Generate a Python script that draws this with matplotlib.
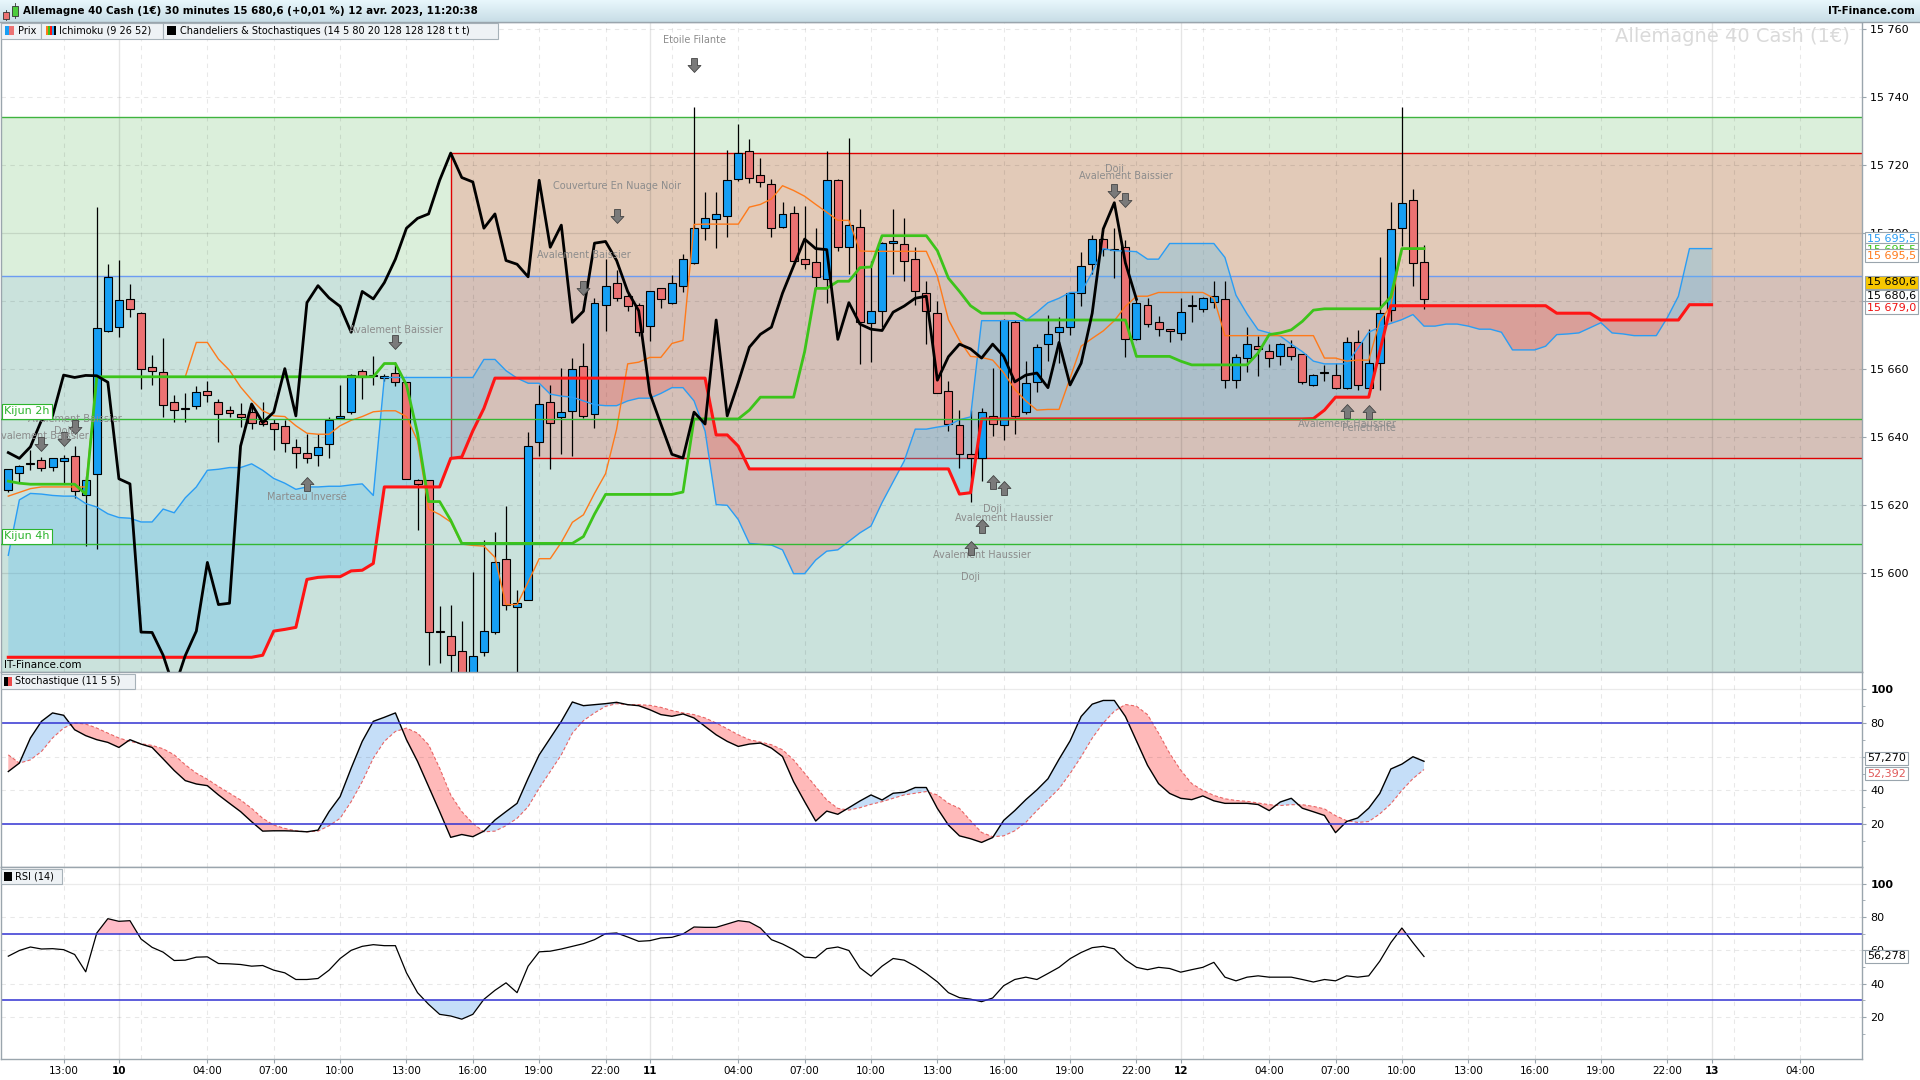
import numpy as np
import matplotlib
matplotlib.use("Agg")
import matplotlib.pyplot as plt
from matplotlib.path import Path
from matplotlib.patches import Rectangle

# ---- candles (30 min), index 0 = first candle on the chart ----
opens = [15624.4, 15629.6, 15632.3, 15633.4, 15631.4, 15633.1, 15634.5, 15623.0, 15629.2, 15671.2,
         15672.3, 15680.8, 15676.6, 15660.8, 15659.2, 15650.5, 15648.7, 15649.1, 15653.5, 15650.3,
         15648.0, 15647.0, 15647.4, 15644.9, 15644.3, 15643.2, 15637.2, 15635.5, 15634.7, 15638.0,
         15645.6, 15647.4, 15659.4, 15658.0, 15657.3, 15658.9, 15656.2, 15627.4, 15627.3, 15582.6,
         15581.6, 15577.0, 15567.0, 15576.9, 15582.8, 15604.3, 15590.2, 15592.1, 15638.7, 15650.5,
         15646.0, 15647.6, 15661.1, 15646.9, 15678.8, 15685.5, 15681.5, 15679.0, 15672.7, 15683.8,
         15679.5, 15684.5, 15691.3, 15701.5, 15704.3, 15705.0, 15715.9, 15724.1, 15717.1, 15714.6,
         15702.0, 15705.9, 15692.4, 15691.5, 15686.5, 15715.8, 15695.9, 15702.0, 15673.5, 15677.2,
         15697.2, 15697.0, 15692.4, 15682.3, 15676.5, 15653.5, 15643.5, 15635.2, 15633.9, 15646.3,
         15643.5, 15673.9, 15647.4, 15656.3, 15667.4, 15670.9, 15672.4, 15682.4, 15690.9, 15698.3,
         15695.0, 15695.9, 15668.8, 15678.8, 15673.8, 15671.6, 15670.7, 15678.5, 15677.7, 15679.8,
         15680.7, 15656.8, 15663.3, 15666.8, 15665.4, 15663.8, 15666.6, 15664.4, 15655.4, 15658.8,
         15658.3, 15654.4, 15667.9, 15654.6, 15661.8, 15677.4, 15701.5, 15709.7, 15691.5]
highs = [15630.8, 15631.9, 15636.3, 15634.2, 15634.0, 15634.9, 15637.4, 15628.7, 15707.7, 15691.0,
         15692.1, 15685.1, 15676.8, 15664.1, 15669.3, 15652.4, 15652.9, 15655.2, 15656.5, 15651.2,
         15649.2, 15650.0, 15649.2, 15650.3, 15645.4, 15645.0, 15639.6, 15640.9, 15640.9, 15646.1,
         15655.4, 15658.7, 15660.0, 15663.8, 15658.6, 15662.1, 15656.4, 15627.6, 15627.5, 15590.3,
         15590.6, 15586.0, 15600.3, 15609.9, 15612.1, 15619.9, 15595.2, 15641.5, 15655.4, 15655.4,
         15660.4, 15663.3, 15667.6, 15680.9, 15692.4, 15689.3, 15682.4, 15679.5, 15683.1, 15684.0,
         15687.7, 15693.9, 15737.1, 15712.1, 15712.1, 15724.4, 15732.1, 15727.8, 15722.1, 15716.0,
         15709.2, 15707.9, 15707.9, 15701.5, 15724.2, 15716.0, 15727.9, 15707.1, 15692.0, 15697.3,
         15707.1, 15704.4, 15696.0, 15685.9, 15680.1, 15656.6, 15648.0, 15648.0, 15648.5, 15660.4,
         15674.8, 15674.5, 15662.4, 15667.4, 15676.0, 15675.4, 15682.6, 15694.4, 15699.6, 15698.5,
         15701.5, 15697.9, 15681.0, 15681.0, 15675.7, 15671.8, 15681.0, 15681.8, 15681.2, 15685.9,
         15685.9, 15664.4, 15672.4, 15669.9, 15667.4, 15667.6, 15668.5, 15664.6, 15658.5, 15661.3,
         15661.8, 15669.6, 15671.6, 15671.8, 15693.1, 15709.2, 15737.1, 15712.9, 15696.6]
lows = [15624.0, 15627.0, 15630.3, 15630.0, 15630.0, 15626.5, 15622.2, 15608.0, 15607.2, 15671.0,
        15669.5, 15675.5, 15654.3, 15655.4, 15645.9, 15644.5, 15644.5, 15648.2, 15650.4, 15638.5,
        15645.9, 15643.1, 15642.5, 15643.2, 15636.3, 15635.8, 15631.1, 15632.5, 15631.6, 15633.8,
        15645.5, 15647.0, 15651.2, 15655.4, 15656.5, 15655.2, 15627.8, 15612.6, 15573.0, 15573.7,
        15568.0, 15562.0, 15563.0, 15575.8, 15582.1, 15589.1, 15566.0, 15592.0, 15634.6, 15630.8,
        15635.2, 15634.4, 15645.7, 15642.7, 15671.3, 15680.1, 15677.2, 15669.8, 15668.3, 15678.1,
        15679.3, 15682.6, 15691.1, 15697.9, 15695.7, 15699.0, 15715.4, 15714.9, 15713.5, 15699.0,
        15701.5, 15692.0, 15689.6, 15684.3, 15679.6, 15694.9, 15687.9, 15661.6, 15662.1, 15672.4,
        15687.9, 15685.9, 15678.8, 15667.4, 15653.0, 15641.9, 15631.0, 15621.0, 15627.2, 15640.4,
        15639.1, 15641.1, 15646.9, 15653.2, 15662.4, 15661.8, 15670.2, 15678.7, 15687.9, 15693.3,
        15686.8, 15663.7, 15668.6, 15672.4, 15669.9, 15667.9, 15668.5, 15673.8, 15676.8, 15677.9,
        15654.6, 15654.6, 15659.1, 15657.9, 15660.7, 15661.3, 15662.7, 15655.7, 15655.2, 15656.6,
        15654.3, 15654.2, 15653.8, 15654.5, 15653.8, 15674.1, 15696.3, 15684.4, 15677.6]
closes = [15630.6, 15631.7, 15632.1, 15631.1, 15634.0, 15634.0, 15624.3, 15627.4, 15672.2, 15687.2,
          15680.4, 15677.6, 15660.0, 15659.4, 15649.6, 15648.0, 15648.2, 15653.2, 15652.3, 15647.0,
          15647.2, 15646.1, 15644.3, 15643.9, 15642.3, 15638.3, 15635.5, 15633.8, 15637.2, 15645.0,
          15646.3, 15658.3, 15657.6, 15658.2, 15658.1, 15656.2, 15627.8, 15626.3, 15582.7, 15582.6,
          15575.9, 15566.0, 15575.8, 15583.0, 15603.2, 15590.8, 15591.2, 15637.4, 15649.8, 15644.3,
          15647.4, 15660.2, 15646.3, 15679.6, 15684.6, 15681.0, 15678.5, 15670.9, 15682.9, 15680.7,
          15685.5, 15692.4, 15701.5, 15704.4, 15705.7, 15715.6, 15723.6, 15716.4, 15715.1, 15701.5,
          15705.7, 15692.0, 15690.9, 15687.2, 15715.6, 15695.9, 15702.4, 15673.8, 15677.1, 15697.1,
          15697.6, 15692.0, 15682.9, 15677.2, 15653.0, 15643.9, 15635.0, 15633.9, 15647.4, 15643.9,
          15674.5, 15646.3, 15656.1, 15666.5, 15670.3, 15672.4, 15682.4, 15690.4, 15698.3, 15695.5,
          15695.2, 15668.8, 15679.6, 15673.3, 15671.8, 15671.4, 15676.8, 15678.6, 15680.9, 15681.5,
          15656.8, 15663.7, 15667.4, 15666.0, 15663.3, 15667.4, 15663.8, 15656.3, 15658.3, 15658.9,
          15654.6, 15667.9, 15655.4, 15661.8, 15676.5, 15701.3, 15709.0, 15691.3, 15680.6]

# ---- Ichimoku (9 26 52) ----
tenkan = [15622.7, 15623.8, 15624.9, 15625.4, 15625.4, 15625.4, 15625.4, 15625.4, 15657.8, 15657.8,
          15657.8, 15657.8, 15657.8, 15657.8, 15657.8, 15657.8, 15657.8, 15667.9, 15667.9, 15663.0,
          15659.7, 15654.8, 15651.0, 15647.8, 15646.3, 15646.1, 15643.4, 15641.2, 15640.9, 15640.9,
          15643.4, 15645.0, 15646.1, 15647.5, 15647.8, 15647.8, 15646.1, 15639.0, 15618.9, 15617.3,
          15615.1, 15608.6, 15608.2, 15608.0, 15604.7, 15590.8, 15590.8, 15597.4, 15604.3, 15604.3,
          15609.1, 15615.0, 15617.2, 15623.5, 15629.3, 15642.4, 15661.6, 15662.1, 15663.5, 15663.5,
          15667.6, 15668.5, 15702.6, 15702.7, 15702.7, 15702.7, 15702.7, 15707.7, 15708.5, 15710.1,
          15714.0, 15712.6, 15710.9, 15708.5, 15706.2, 15703.8, 15703.8, 15694.8, 15694.7, 15694.7,
          15694.7, 15694.7, 15694.7, 15694.7, 15687.4, 15674.6, 15668.5, 15663.8, 15663.5, 15662.7,
          15659.0, 15654.1, 15650.7, 15648.0, 15648.2, 15648.2, 15657.4, 15666.8, 15669.1, 15671.3,
          15674.3, 15678.5, 15681.5, 15681.5, 15682.6, 15682.6, 15682.6, 15682.6, 15682.6, 15680.9,
          15669.9, 15669.9, 15669.9, 15669.9, 15669.9, 15669.9, 15669.9, 15669.9, 15669.9, 15663.3,
          15663.3, 15662.4, 15662.7, 15662.7, 15674.1, 15678.7, 15695.5, 15695.5, 15695.5]
kijun = [15627.1, 15626.5, 15626.2, 15626.2, 15626.2, 15626.2, 15626.2, 15623.3, 15657.8, 15657.8,
         15657.8, 15657.8, 15657.8, 15657.8, 15657.8, 15657.8, 15657.8, 15657.8, 15657.8, 15657.8,
         15657.8, 15657.8, 15657.8, 15657.8, 15657.8, 15657.8, 15657.8, 15657.8, 15657.8, 15657.8,
         15657.8, 15657.8, 15657.8, 15657.8, 15661.7, 15661.7, 15655.4, 15641.2, 15621.1, 15621.1,
         15615.6, 15608.8, 15608.8, 15608.8, 15608.8, 15608.8, 15608.8, 15608.8, 15608.8, 15608.8,
         15608.8, 15608.8, 15610.8, 15617.4, 15623.2, 15623.2, 15623.2, 15623.2, 15623.2, 15623.2,
         15623.2, 15623.9, 15645.4, 15645.4, 15645.4, 15645.4, 15645.4, 15648.0, 15651.8, 15651.8,
         15651.8, 15651.8, 15665.2, 15683.8, 15683.8, 15685.9, 15685.9, 15689.9, 15690.1, 15699.3,
         15699.3, 15699.3, 15699.3, 15699.3, 15694.9, 15686.8, 15682.9, 15678.7, 15676.5, 15676.5,
         15676.5, 15676.5, 15674.5, 15674.5, 15674.5, 15674.5, 15674.5, 15674.5, 15674.5, 15674.5,
         15674.5, 15674.5, 15663.8, 15663.8, 15663.8, 15663.8, 15662.4, 15661.3, 15661.3, 15661.3,
         15661.3, 15661.3, 15661.3, 15664.8, 15670.2, 15670.7, 15671.6, 15674.1, 15677.4, 15677.8,
         15677.8, 15677.8, 15677.8, 15677.8, 15677.8, 15681.3, 15695.5, 15695.5, 15695.5]
# spans already drawn 26 periods ahead (to index 154)
senkou_a = [15575.3, 15575.3, 15575.3, 15575.3, 15575.3, 15575.3, 15575.3, 15575.3, 15575.3, 15575.3,
            15575.3, 15575.3, 15575.3, 15575.3, 15575.3, 15575.3, 15575.3, 15575.3, 15575.3, 15575.3,
            15575.3, 15575.3, 15575.3, 15575.9, 15583.0, 15583.5, 15584.1, 15598.2, 15598.8, 15599.0,
            15599.0, 15600.7, 15600.9, 15602.9, 15625.4, 15625.4, 15625.4, 15625.4, 15625.4, 15625.4,
            15633.8, 15634.2, 15641.9, 15648.5, 15657.4, 15657.4, 15657.4, 15657.4, 15657.4, 15657.4,
            15657.4, 15657.4, 15657.4, 15657.4, 15657.4, 15657.4, 15657.4, 15657.4, 15657.4, 15657.4,
            15657.4, 15657.4, 15657.4, 15657.4, 15640.7, 15640.7, 15637.4, 15630.7, 15630.7, 15630.7,
            15630.7, 15630.7, 15630.7, 15630.7, 15630.7, 15630.7, 15630.7, 15630.7, 15630.7, 15630.7,
            15630.7, 15630.7, 15630.7, 15630.7, 15630.7, 15630.7, 15623.3, 15623.7, 15645.4, 15645.4,
            15645.4, 15645.4, 15645.4, 15645.4, 15645.4, 15645.4, 15645.4, 15645.4, 15645.4, 15645.4,
            15645.4, 15645.4, 15645.4, 15645.4, 15645.4, 15645.4, 15645.4, 15645.4, 15645.4, 15645.4,
            15645.4, 15645.4, 15645.4, 15645.4, 15645.4, 15645.4, 15645.4, 15645.4, 15645.5, 15648.0,
            15651.8, 15651.8, 15651.8, 15651.8, 15665.2, 15678.7, 15678.7, 15678.7, 15678.7, 15678.7,
            15678.7, 15678.7, 15678.7, 15678.7, 15678.7, 15678.7, 15678.7, 15678.7, 15678.7, 15678.7,
            15676.5, 15676.5, 15676.5, 15676.5, 15674.5, 15674.5, 15674.5, 15674.5, 15674.5, 15674.5,
            15674.5, 15674.5, 15679.0, 15679.0, 15679.0]
senkou_b = [15605.3, 15621.6, 15623.5, 15623.3, 15622.9, 15622.7, 15622.7, 15620.5, 15619.5, 15617.5,
            15616.4, 15616.2, 15615.1, 15615.1, 15618.9, 15617.8, 15622.2, 15625.4, 15630.3, 15630.6,
            15631.1, 15631.1, 15632.2, 15630.3, 15627.9, 15626.5, 15624.7, 15625.4, 15625.4, 15625.6,
            15625.6, 15626.0, 15626.3, 15622.9, 15657.6, 15657.6, 15657.6, 15657.6, 15657.6, 15657.6,
            15657.6, 15657.6, 15657.6, 15662.9, 15662.9, 15659.6, 15657.4, 15655.9, 15655.9, 15652.7,
            15652.1, 15651.8, 15650.7, 15649.6, 15649.3, 15649.3, 15650.7, 15651.5, 15651.5, 15652.9,
            15654.6, 15654.6, 15650.7, 15641.8, 15620.2, 15620.0, 15615.8, 15608.8, 15608.5, 15608.3,
            15606.9, 15599.9, 15599.9, 15603.9, 15606.5, 15606.9, 15609.4, 15611.9, 15613.9, 15620.8,
            15626.9, 15633.0, 15642.4, 15642.4, 15643.0, 15643.5, 15645.2, 15646.0, 15674.3, 15674.3,
            15674.3, 15674.3, 15674.3, 15676.8, 15679.6, 15680.9, 15682.6, 15682.7, 15688.5, 15695.5,
            15694.9, 15694.8, 15694.6, 15692.4, 15692.4, 15697.0, 15697.0, 15697.0, 15697.0, 15697.0,
            15692.9, 15681.8, 15676.3, 15671.6, 15670.7, 15669.8, 15667.4, 15665.2, 15662.4, 15661.6,
            15661.6, 15661.6, 15666.1, 15670.9, 15672.4, 15673.5, 15674.6, 15676.1, 15672.7, 15672.7,
            15673.3, 15673.3, 15672.7, 15671.8, 15671.8, 15670.9, 15665.7, 15665.7, 15665.7, 15666.8,
            15670.2, 15670.4, 15670.7, 15672.2, 15673.7, 15670.7, 15670.4, 15669.9, 15669.9, 15669.9,
            15675.2, 15681.5, 15695.5, 15695.5, 15695.5]
chikou_shift = 26

# ---- Stochastique (11 5 5) and RSI (14) ----
stoch_k = [51.2, 56.2, 71.1, 81.0, 86.0, 84.6, 76.0, 72.5, 70.1, 68.5,
           65.5, 70.1, 67.5, 65.5, 58.7, 51.8, 45.8, 43.8, 42.8, 37.3,
           32.3, 27.4, 21.4, 15.8, 16.0, 16.0, 15.8, 15.4, 16.4, 27.4,
           36.3, 53.2, 69.1, 81.0, 83.4, 86.0, 70.1, 57.2, 42.3, 27.4,
           12.1, 13.8, 12.5, 15.8, 22.4, 27.4, 32.3, 47.2, 61.1, 71.1,
           81.0, 92.5, 90.3, 90.9, 91.5, 92.3, 90.9, 90.3, 87.9, 85.0,
           84.0, 85.4, 83.0, 78.0, 73.0, 69.1, 66.1, 67.5, 68.1, 65.1,
           60.1, 45.2, 33.3, 21.8, 27.7, 25.8, 29.7, 33.7, 37.3, 34.3,
           38.3, 38.9, 41.7, 41.7, 29.3, 19.4, 13.0, 11.3, 9.1, 12.0,
           22.2, 28.0, 34.5, 40.3, 46.9, 58.5, 69.4, 83.9, 91.2, 93.4,
           93.4, 83.9, 69.4, 54.9, 44.0, 38.2, 35.3, 34.5, 36.7, 33.8,
           32.3, 32.3, 32.3, 31.6, 28.0, 33.1, 35.3, 29.4, 27.3, 25.1,
           14.9, 21.5, 23.6, 29.4, 38.2, 52.7, 55.6, 60.0, 57.27]
stoch_d = [61.1, 56.2, 58.1, 63.1, 71.1, 77.0, 80.0, 79.4, 77.0, 74.0,
           71.1, 69.1, 67.7, 66.7, 64.7, 61.1, 55.2, 50.2, 46.6, 42.3,
           38.3, 34.3, 29.3, 23.4, 19.4, 17.4, 16.0, 15.4, 15.8, 19.0,
           23.4, 33.3, 45.2, 59.1, 69.1, 75.0, 77.0, 74.0, 67.1, 53.2,
           37.3, 27.4, 20.4, 15.4, 15.8, 19.0, 23.4, 30.3, 41.3, 51.2,
           61.1, 74.0, 81.4, 86.0, 89.9, 91.5, 90.9, 90.9, 90.5, 89.3,
           87.4, 86.0, 85.0, 83.0, 80.0, 76.6, 73.0, 70.1, 68.7, 67.1,
           64.1, 58.1, 50.2, 42.3, 34.3, 29.3, 28.3, 29.7, 31.7, 33.3,
           35.3, 37.3, 38.3, 39.3, 37.3, 32.3, 29.3, 22.0, 15.0, 12.5,
           13.0, 16.0, 21.0, 28.0, 34.5, 41.0, 50.0, 60.0, 71.0, 80.0,
           87.0, 91.0, 90.0, 85.0, 74.0, 62.0, 52.0, 44.0, 40.0, 37.0,
           35.0, 34.0, 33.5, 32.5, 31.5, 31.0, 31.5, 31.5, 30.5, 29.0,
           25.0, 22.0, 21.0, 21.5, 26.0, 32.0, 40.0, 47.0, 52.392]
rsi = [56.5, 59.9, 62.0, 60.8, 61.0, 60.4, 57.5, 47.1, 70.4, 79.0,
       77.4, 77.8, 66.8, 61.8, 58.9, 53.9, 54.1, 55.9, 56.1, 52.1,
       51.9, 51.5, 50.5, 50.9, 48.1, 46.5, 42.5, 42.5, 43.1, 48.1,
       55.1, 60.0, 62.4, 63.4, 62.8, 62.8, 46.5, 34.6, 27.6, 21.6,
       20.6, 18.7, 21.6, 30.6, 36.0, 40.5, 34.6, 50.5, 59.1, 59.5,
       60.8, 62.4, 64.0, 66.4, 70.0, 70.4, 68.0, 65.4, 65.8, 67.4,
       67.8, 69.8, 74.0, 73.8, 73.8, 75.8, 77.8, 77.0, 73.4, 66.4,
       63.8, 60.4, 55.9, 55.5, 61.0, 62.0, 59.9, 49.5, 44.5, 50.5,
       55.1, 54.1, 50.5, 46.1, 41.1, 34.6, 31.6, 30.7, 29.2, 31.4,
       38.8, 42.5, 43.9, 42.5, 46.1, 49.8, 55.0, 58.7, 61.6, 62.4,
       60.9, 54.3, 49.8, 48.4, 49.8, 49.1, 46.9, 48.4, 49.8, 52.8,
       43.9, 41.7, 43.9, 44.7, 43.9, 43.9, 43.9, 42.5, 41.0, 42.5,
       41.7, 44.7, 43.9, 44.7, 53.5, 64.6, 73.4, 64.6, 56.3]

# ---- time axis ----
tick_pos = [5, 10, 18, 24, 30, 36, 42, 48, 54, 58, 66, 72, 78, 84, 90, 96, 102,
            106, 114, 120, 126, 132, 138, 144, 150, 154, 162]
tick_lbl = ["13:00", "10", "04:00", "07:00", "10:00", "13:00", "16:00", "19:00", "22:00",
            "11", "04:00", "07:00", "10:00", "13:00", "16:00", "19:00", "22:00",
            "12", "04:00", "07:00", "10:00", "13:00", "16:00", "19:00", "22:00", "13", "04:00"]
day_pos = [10, 58, 106, 154]
open_grid = [12, 60, 108, 156]

# ---- higher time frame levels ----
green_top = 15734.1
red_top = 15723.5
blue_top = 15687.4
red_bottom = 15633.8
red_start = 40
kijun_2h = 15645.3
kijun_4h = 15608.5

# ---- candlestick pattern labels ----
pat_text = ["Etoile Filante", "Couverture En Nuage Noir", "Avalement Baissier", "Avalement Baissier",
            "Avalement Baissier", "Doji", "Avalement Baissier", "Marteau Inversé",
            "Doji", "Avalement Baissier", "Doji", "Avalement Haussier",
            "Avalement Haussier", "Doji", "Avalement Haussier", "Pénétrante"]
pat_pos = [62, 55, 52, 35, 6, 5, 3, 27, 100, 101, 89, 90, 88, 87, 121, 123]
pat_text_y = [15757.0, 15713.8, 15693.6, 15671.6, 15645.4, 15642.0, 15640.4, 15622.4,
              15718.9, 15716.8, 15618.8, 15616.3, 15605.4, 15599.0, 15643.9, 15642.7]
pat_arrow_y = [15749.5, 15705.0, 15684.0, 15668.0, 15642.9, 15639.6, 15638.0, 15626.2,
               15712.4, 15709.8, 15626.9, 15625.2, 15613.8, 15607.4, 15647.7, 15647.4]
pat_up = [False, False, False, False, False, False, False, True,
          False, False, True, True, True, True, True, True]

W, H = 1920, 1080
XL = (-0.66, 167.6)
GRIDC = (0, 0, 0, 0.09)
FRAME = '#9aa5ad'

fig = plt.figure(figsize=(19.2, 10.8), dpi=100)
fig.patch.set_facecolor('white')


def panel(top, bottom):
    return fig.add_axes([1 / W, 1 - bottom / H, 1861 / W, (bottom - top) / H])


ax = panel(22, 672)
ax_st = panel(672, 867)
ax_rsi = panel(867, 1059)

for a in (ax, ax_st, ax_rsi):
    a.set_xlim(*XL)
    for s in a.spines.values():
        s.set_color(FRAME)
        s.set_linewidth(1.0)
    a.yaxis.tick_right()
    a.tick_params(axis='y', length=3, width=0.8, color=FRAME, pad=3, labelsize=8)
    a.tick_params(axis='x', bottom=False, labelbottom=False)
    for p in tick_pos + open_grid:
        if p in day_pos:
            a.axvline(p, color=(0, 0, 0, 0.10), lw=1.0, zorder=0.6)
        else:
            a.axvline(p, color=GRIDC, lw=0.8, ls=(0, (4, 4)), zorder=0.6)

# ---------------- main price panel ----------------
ax.set_ylim(15570.97, 15762.15)
ax.axhspan(15500, green_top, color=(60 / 255, 170 / 255, 60 / 255), alpha=0.18, lw=0, zorder=0.1)
ax.axhspan(15500, blue_top, color=(107 / 255, 153 / 255, 227 / 255), alpha=0.15, lw=0, zorder=0.2)
ax.fill_between([red_start, XL[1]], red_bottom, red_top, color=(248 / 255, 92 / 255, 80 / 255),
                alpha=0.25, lw=0, zorder=0.3)

price_ticks = list(range(15600, 15761, 20))
for v in price_ticks:
    if v % 100 == 0:
        ax.axhline(v, color=(0, 0, 0, 0.10), lw=0.9, zorder=0.6)
    else:
        ax.axhline(v, color=GRIDC, lw=0.8, ls=(0, (4, 4)), zorder=0.6)
ax.set_yticks(price_ticks)
ax.set_yticklabels([f"{v:,}".replace(",", " ") for v in price_ticks])

ax.axhline(green_top, color='#3fb43f', lw=1.0, zorder=0.7)
ax.axhline(blue_top, color='#6d9cf2', lw=1.0, zorder=0.7)
ax.hlines([red_top, red_bottom], red_start, XL[1], color='#e00000', lw=1.0, zorder=0.7)
ax.vlines(red_start, red_bottom, red_top, color='#e00000', lw=1.0, zorder=0.7)

# Ichimoku cloud
xf = np.arange(len(senkou_a))
sa = np.array(senkou_a)
sb = np.array(senkou_b)
ax.fill_between(xf, sa, sb, where=sa >= sb, interpolate=True, color=(0.9, 0.24, 0.24),
                alpha=0.25, lw=0, zorder=1)
ax.fill_between(xf, sa, sb, where=sa < sb, interpolate=True, color=(86 / 255, 190 / 255, 241 / 255),
                alpha=0.32, lw=0, zorder=1)

# candles
x = np.arange(len(closes))
o, hi, lo, c = (np.array(v) for v in (opens, highs, lows, closes))
up = c >= o
body_lo = np.minimum(o, c)
body_h = np.maximum(np.abs(c - o), 0.35)
ax.vlines(x, lo, hi, color='black', lw=0.9, zorder=3)
ax.bar(x[up], body_h[up], bottom=body_lo[up], width=0.72, color='#169ff4',
       edgecolor='black', linewidth=0.8, zorder=3.2)
ax.bar(x[~up], body_h[~up], bottom=body_lo[~up], width=0.72, color='#ec7272',
       edgecolor='black', linewidth=0.8, zorder=3.2)

# Ichimoku lines
ax.plot(xf, sb, color='#2a9df4', lw=1.0, zorder=4)
ax.plot(x, tenkan, color='#ff7a1a', lw=1.0, zorder=4.1)
ax.plot(x, kijun, color='#3cc41a', lw=2.0, zorder=4.2)
ax.plot(xf, sa, color='#ff1515', lw=2.2, zorder=4.3)
ax.axhline(kijun_2h, color='#33b833', lw=1.0, zorder=4.4)
ax.axhline(kijun_4h, color='#33b833', lw=1.0, zorder=4.4)
ax.plot(x[:-chikou_shift], c[chikou_shift:], color='black', lw=2.0, zorder=5)

# pattern labels
arrow_down = Path([(-0.3, 0.7), (0.3, 0.7), (0.3, 0.0), (0.65, 0.0), (0.0, -0.7),
                   (-0.65, 0.0), (-0.3, 0.0), (-0.3, 0.7)], closed=True)
arrow_up = Path([(px, -py) for px, py in arrow_down.vertices], closed=True)
for t, k, ty, ay, isup in zip(pat_text, pat_pos, pat_text_y, pat_arrow_y, pat_up):
    ax.text(k, ty, t, ha='center', va='center', fontsize=7, color='#8c8c8c', zorder=6, clip_on=True)
    ax.plot(k, ay, marker=arrow_up if isup else arrow_down, ms=10, color='#7a7a7a',
            mec='#444444', mew=0.6, zorder=6, clip_on=True)

for lvl, name in ((kijun_2h, "Kijun 2h"), (kijun_4h, "Kijun 4h")):
    ax.annotate(name, xy=(0, lvl), xycoords=('axes fraction', 'data'), xytext=(3, 3),
                textcoords='offset pixels', ha='left', va='bottom', fontsize=8, color='#2db42d',
                bbox=dict(boxstyle='square,pad=0.2', fc='white', ec='#2db42d', lw=0.8), zorder=7)

ax.text(0.9936, 0.978, "Allemagne 40 Cash (1€)", transform=ax.transAxes, ha='right', va='center',
        fontsize=14, color='#dadada', zorder=0.8)
ax.text(0.0015, 0.003, "IT-Finance.com", transform=ax.transAxes, ha='left', va='bottom',
        fontsize=7.5, color='black', zorder=7)


def value_box(a, value, txt, color, dy, face='white'):
    a.annotate(txt, xy=(1.0, value), xycoords=('axes fraction', 'data'), xytext=(5, dy),
               textcoords='offset pixels', ha='left', va='center', fontsize=8, color=color,
               bbox=dict(boxstyle='square,pad=0.15', fc=face, ec=FRAME, lw=0.8),
               annotation_clip=False, zorder=20)


value_box(ax, senkou_b[-1], "15 695,5", '#2a9df4', 10)
value_box(ax, kijun[-1], "15 695,5", '#3cc41a', -1)
value_box(ax, tenkan[-1], "15 695,5", '#ff7a1a', -7)
value_box(ax, closes[-1], "15 680,6", 'black', 17, face='#f7c600')
value_box(ax, closes[-1], "15 680,6", 'black', 3)
value_box(ax, senkou_a[-1], "15 679,0", '#ee1111', -3)

# ---------------- stochastic ----------------
ax_st.set_ylim(-5.5, 110.3)
sk = np.array(stoch_k)
sd = np.array(stoch_d)
ax_st.axhline(100, color=(0, 0, 0, 0.08), lw=0.9)
for v in (60, 40):
    ax_st.axhline(v, color=GRIDC, lw=0.8, ls=(0, (4, 4)))
ax_st.fill_between(x, sk, sd, where=sk >= sd, interpolate=True, color='#c5def8', lw=0)
ax_st.fill_between(x, sk, sd, where=sk < sd, interpolate=True, color='#ffb9b9', lw=0)
ax_st.plot(x, sd, color='#e86565', lw=0.8, ls=(0, (3, 2)))
ax_st.plot(x, sk, color='black', lw=1.0)
ax_st.axhline(80, color='#3232d2', lw=1.1)
ax_st.axhline(20, color='#3232d2', lw=1.1)
ax_st.set_yticks([20, 40, 60, 80, 100])
ax_st.set_yticklabels(['20', '40', '60', '80', '100'])
ax_st.get_yticklabels()[-1].set_fontweight('bold')
ax_st.set_yticks([10, 30, 50, 70, 90], minor=True)
ax_st.tick_params(axis='y', which='minor', length=2, color=FRAME, right=True, left=False)
value_box(ax_st, stoch_k[-1], "57,270", 'black', 3)
value_box(ax_st, stoch_d[-1], "52,392", '#e05a5a', -4)

# ---------------- RSI ----------------
ax_rsi.set_ylim(-5.2, 110.0)
rv = np.array(rsi)
ax_rsi.axhline(100, color=(0, 0, 0, 0.08), lw=0.9)
for v in (80, 60, 40, 20):
    ax_rsi.axhline(v, color=GRIDC, lw=0.8, ls=(0, (4, 4)))
ax_rsi.fill_between(x, rv, 70, where=rv > 70, interpolate=True, color='#ffbcc8', lw=0)
ax_rsi.fill_between(x, rv, 30, where=rv < 30, interpolate=True, color='#c5def8', lw=0)
ax_rsi.plot(x, rv, color='black', lw=0.9)
ax_rsi.axhline(70, color='#3232d2', lw=1.1)
ax_rsi.axhline(30, color='#3232d2', lw=1.1)
ax_rsi.set_yticks([20, 40, 60, 80, 100])
ax_rsi.set_yticklabels(['20', '40', '60', '80', '100'])
ax_rsi.get_yticklabels()[-1].set_fontweight('bold')
ax_rsi.set_yticks([10, 30, 50, 70, 90], minor=True)
ax_rsi.tick_params(axis='y', which='minor', length=2, color=FRAME, right=True, left=False)
value_box(ax_rsi, rsi[-1], "56,278", 'black', 0)

ax_rsi.set_xticks(tick_pos)
ax_rsi.set_xticklabels(tick_lbl)
ax_rsi.tick_params(axis='x', bottom=True, labelbottom=True, length=3, color=FRAME, labelsize=7.5, pad=2)
for lab in ax_rsi.get_xticklabels():
    if lab.get_text() in ("10", "11", "12", "13"):
        lab.set_fontweight('bold')

# ---------------- header / legend overlay (pixel coordinates) ----------------
ov = fig.add_axes([0, 0, 1, 1], zorder=10)
ov.patch.set_alpha(0)
grad = np.linspace(0, 1, 40)[:, None, None] * (np.array([200, 221, 230]) - np.array([232, 247, 252])) \
    + np.array([232, 247, 252])
ov.imshow(grad / 255, extent=(0, W, 22, 0), aspect='auto', origin='upper', zorder=0)
ov.set_xlim(0, W)
ov.set_ylim(H, 0)
ov.axis('off')
ov.plot([0, W], [21.5, 21.5], color=FRAME, lw=1)

# title icon
ov.add_patch(Rectangle((3, 12), 6, 6.5, fc='#ec7272', ec='#333333', lw=0.6))
ov.plot([6, 6], [10, 20], color='#333333', lw=0.6, zorder=0.5)
ov.add_patch(Rectangle((11.5, 6), 6, 9.5, fc='#4ccc3c', ec='#333333', lw=0.6))
ov.plot([14.5, 14.5], [3, 18], color='#333333', lw=0.6, zorder=0.5)
ov.text(23, 11.5, "Allemagne 40 Cash (1€) 30 minutes 15 680,6 (+0,01 %) 12 avr. 2023, 11:20:38",
        fontsize=7.4, fontweight='bold', va='center', ha='left')
ov.text(1915, 11.5, "IT-Finance.com", fontsize=7.4, fontweight='bold', va='center', ha='right')


def legend_box(x0, x1, y0, y1):
    ov.add_patch(Rectangle((x0, y0), x1 - x0, y1 - y0, fc='#eef2f5', ec='#a7b2b9', lw=0.8))


legend_box(1, 41, 22.5, 38.5)
ov.add_patch(Rectangle((5, 26), 4, 9, fc='#169ff4', lw=0))
ov.add_patch(Rectangle((9, 26), 5, 9, fc='#ec7272', lw=0))
ov.text(18, 30.5, "Prix", fontsize=7, va='center')
legend_box(41, 163, 22.5, 38.5)
for i, col in enumerate(['#ff7a1a', '#3cc41a', '#ff1515', '#2a9df4', 'black']):
    ov.add_patch(Rectangle((46 + 2 * i, 26), 2, 9, fc=col, lw=0))
ov.text(59, 30.5, "Ichimoku (9 26 52)", fontsize=7, va='center')
legend_box(163, 498, 22.5, 38.5)
ov.add_patch(Rectangle((167, 26), 9, 9, fc='black', lw=0))
ov.text(180, 30.5, "Chandeliers & Stochastiques (14 5 80 20 128 128 128 t t t)", fontsize=7, va='center')

legend_box(1, 135, 673.5, 689)
ov.add_patch(Rectangle((4, 677), 4, 9, fc='black', lw=0))
ov.add_patch(Rectangle((8, 677), 4, 9, fc='#ec4a4a', lw=0))
ov.text(15, 681.5, "Stochastique (11 5 5)", fontsize=7, va='center')
legend_box(1, 62, 868.5, 884)
ov.add_patch(Rectangle((4, 872), 8, 9, fc='black', lw=0))
ov.text(15, 876.5, "RSI (14)", fontsize=7, va='center')

fig.savefig("out.png", dpi=100, facecolor='white')
